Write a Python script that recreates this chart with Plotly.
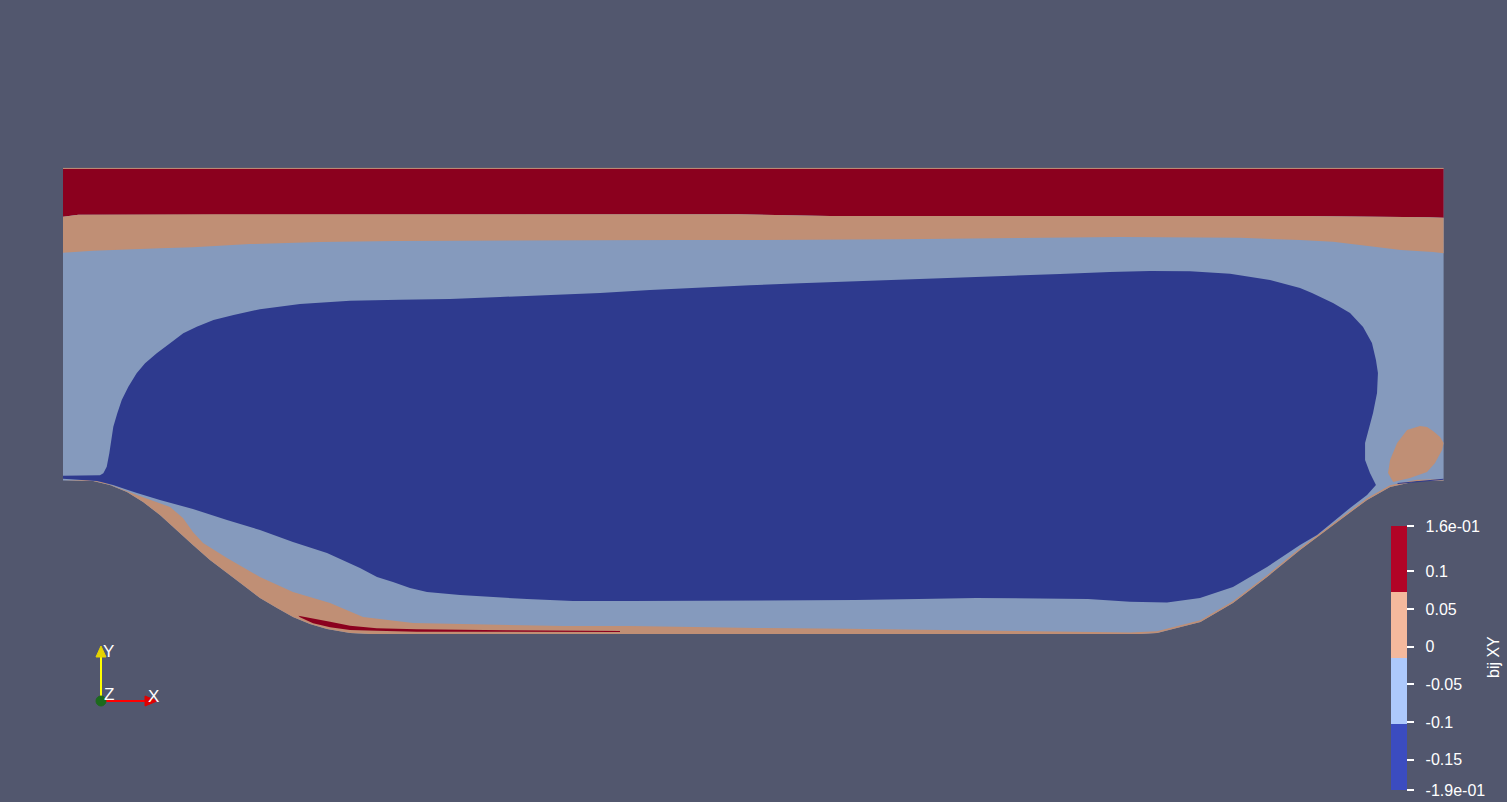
import plotly.graph_objects as go

# ---------------- data (physical units, periodic-hill channel) ----------------
DOMAIN_LENGTH = 9.0
CHANNEL_TOP = 3.035

# lower wall (hill profile)
WALL_X = [0.000, 0.196, 0.306, 0.417, 0.522, 0.632, 0.743, 0.847, 0.958, 1.069, 1.173, 1.284,
          1.395, 1.499, 1.610, 1.721, 1.871, 2.000, 7.021, 7.132, 7.415, 7.627, 7.849, 8.064,
          8.279, 8.501, 8.651, 8.827, 9.000]
WALL_Y = [1.000, 0.997, 0.971, 0.926, 0.860, 0.776, 0.678, 0.580, 0.482, 0.398, 0.319, 0.235,
          0.169, 0.111, 0.065, 0.033, 0.007, 0.000, 0.000, 0.007, 0.078, 0.202, 0.372, 0.548,
          0.711, 0.874, 0.958, 0.997, 1.000]

# iso-line (red / tan) near the top wall
RED_TAN_X = [0.0, 0.1, 1.0, 4.4, 5.0, 8.1, 8.9, 9.0]
RED_TAN_Y = [2.720, 2.733, 2.736, 2.736, 2.725, 2.725, 2.716, 2.714]

# iso-line (tan / light blue) near the top wall
TAN_BLUE_X = [0.000, 0.196, 0.632, 0.847, 1.219, 1.675, 2.164, 4.003, 4.413, 5.456, 6.258,
              6.891, 7.673, 8.064, 8.279, 8.501, 8.722, 8.931, 9.000]
TAN_BLUE_Y = [2.486, 2.499, 2.514, 2.521, 2.542, 2.555, 2.562, 2.568, 2.568, 2.573, 2.581,
              2.588, 2.583, 2.568, 2.557, 2.529, 2.503, 2.490, 2.482]

# core region (lowest level)
CORE_X = [0.000, 0.241, 0.263, 0.285, 0.302, 0.313, 0.328, 0.354, 0.383, 0.426, 0.480, 0.535,
          0.611, 0.698, 0.784, 0.872, 0.981, 1.112, 1.219, 1.284, 1.545, 1.871, 2.197, 2.523,
          2.849, 3.175, 3.501, 3.827, 4.153, 4.478, 4.804, 5.456, 6.108, 6.499, 6.825, 7.086,
          7.347, 7.608, 7.868, 8.064, 8.142, 8.279, 8.390, 8.475, 8.533, 8.559, 8.572, 8.566,
          8.540, 8.514, 8.488, 8.488, 8.520, 8.559, 8.501, 8.390, 8.279, 8.175, 8.064, 7.849,
          7.627, 7.412, 7.197, 6.956, 6.682, 5.952, 5.574, 5.163, 3.696, 3.325, 3.025, 2.588,
          2.373, 2.262, 2.151, 2.047, 1.936, 1.825, 1.721, 1.499, 1.284, 1.069, 0.847, 0.632,
          0.482, 0.326, 0.222, 0.000]
CORE_Y = [1.032, 1.035, 1.048, 1.091, 1.178, 1.265, 1.351, 1.439, 1.525, 1.612, 1.699, 1.765,
          1.830, 1.895, 1.960, 2.003, 2.047, 2.080, 2.101, 2.117, 2.151, 2.173, 2.179, 2.184,
          2.197, 2.208, 2.223, 2.243, 2.260, 2.273, 2.286, 2.308, 2.332, 2.347, 2.360, 2.366,
          2.364, 2.349, 2.308, 2.256, 2.223, 2.158, 2.093, 2.001, 1.897, 1.786, 1.701, 1.571,
          1.441, 1.349, 1.245, 1.134, 1.050, 0.971, 0.906, 0.821, 0.730, 0.645, 0.580, 0.437,
          0.306, 0.235, 0.205, 0.211, 0.228, 0.235, 0.228, 0.222, 0.215, 0.215, 0.228, 0.254,
          0.274, 0.300, 0.339, 0.372, 0.430, 0.482, 0.528, 0.600, 0.678, 0.743, 0.815, 0.874,
          0.919, 0.971, 0.997, 1.012]

# upper edge of the positive layer hugging the lower wall
WALL_LAYER_X = [0.163, 0.261, 0.482, 0.698, 0.782, 0.847, 0.913, 1.069, 1.284, 1.499, 1.741,
                1.956, 2.282, 2.803, 3.259, 3.696, 4.524, 5.111, 5.587, 6.043, 6.630, 6.956,
                7.132, 7.415, 7.627, 7.849, 8.064, 8.279, 8.501, 8.651, 8.827, 9.000]
WALL_LAYER_Y = [1.004, 0.991, 0.906, 0.828, 0.756, 0.665, 0.593, 0.495, 0.372, 0.274, 0.202,
                0.111, 0.072, 0.059, 0.052, 0.052, 0.039, 0.035, 0.028, 0.022, 0.013, 0.010,
                0.018, 0.089, 0.213, 0.383, 0.559, 0.722, 0.885, 0.969, 1.006, 1.008]

# thin strong-positive sliver in the separation zone
SLIVER_X = [1.534, 1.630, 1.741, 1.871, 2.045, 2.306, 2.892, 3.631,
            3.631, 2.892, 2.306, 2.045, 1.871, 1.741, 1.630, 1.545]
SLIVER_Y = [0.119, 0.102, 0.080, 0.054, 0.037, 0.031, 0.024, 0.020,
            0.013, 0.015, 0.015, 0.022, 0.026, 0.044, 0.070, 0.109]

# positive pocket in front of the right hill crest
POCKET_X = [8.846, 8.892, 8.931, 8.977, 9.000, 8.990, 8.944, 8.892, 8.781, 8.671, 8.638,
            8.651, 8.697, 8.762]
POCKET_Y = [1.356, 1.350, 1.323, 1.284, 1.245, 1.199, 1.115, 1.056, 1.017, 0.991, 1.050,
            1.134, 1.245, 1.330]

# negative streak on the right crest
STREAK_X = [8.70, 9.00, 9.00, 8.70]
STREAK_Y = [0.985, 1.012, 1.005, 0.978]

# colour map (bij XY)
CB_TITLE = "bij XY"
CB_MIN, CB_MAX = -0.19, 0.16
TICK_VALS = [-0.19, -0.15, -0.1, -0.05, 0, 0.05, 0.1, 0.16]
TICK_TEXT = ["-1.9e-01", "-0.15", "-0.1", "-0.05", "0", "0.05", "0.1", "1.6e-01"]
BAR_COLORS = ["#3b4cc0", "#adc9fc", "#f4b99d", "#b20426"]      # legend bar colours
LIT_COLORS = ["#2e3a8e", "#859abd", "#c08f75", "#8b001e"]      # shaded surface colours

BG = "#52576e"
FONT = "Liberation Sans, Arial"

# ---------------- figure ----------------
fig = go.Figure()


def region(xs, ys, color):
    fig.add_trace(go.Scatter(x=xs, y=ys, mode="lines", fill="toself", fillcolor=color,
                             line=dict(width=0, color=color), hoverinfo="skip",
                             showlegend=False))


blue, lblue, tan, red = LIT_COLORS

region([0, DOMAIN_LENGTH] + WALL_X[::-1], [CHANNEL_TOP, CHANNEL_TOP] + WALL_Y[::-1], lblue)
region([0, DOMAIN_LENGTH] + RED_TAN_X[::-1], [CHANNEL_TOP, CHANNEL_TOP] + RED_TAN_Y[::-1], red)
region(RED_TAN_X + TAN_BLUE_X[::-1], RED_TAN_Y + TAN_BLUE_Y[::-1], tan)
region(WALL_LAYER_X + WALL_X[::-1], WALL_LAYER_Y + WALL_Y[::-1], tan)
region(CORE_X, CORE_Y, blue)
region(SLIVER_X, SLIVER_Y, red)
region(POCKET_X, POCKET_Y, tan)
region(STREAK_X, STREAK_Y, blue)
fig.add_trace(go.Scatter(x=[0, DOMAIN_LENGTH], y=[CHANNEL_TOP, CHANNEL_TOP], mode="lines",
                         line=dict(width=1, color=tan), hoverinfo="skip", showlegend=False))

# colour bar carrier
n = len(BAR_COLORS)
cscale = []
for i, c in enumerate(BAR_COLORS):
    cscale += [[i / n, c], [(i + 1) / n, c]]
NBSP = "\u00a0\u00a0"
fig.add_trace(go.Scatter(
    x=[-50], y=[-50], mode="markers", hoverinfo="skip", showlegend=False,
    marker=dict(size=1, color=[0], cmin=CB_MIN, cmax=CB_MAX, colorscale=cscale, showscale=True,
                colorbar=dict(
                    thickness=16, thicknessmode="pixels", len=264, lenmode="pixels",
                    x=1391 / 1507, xanchor="left", xpad=0,
                    y=1 - 526 / 802, yanchor="top", ypad=0,
                    outlinewidth=0, bgcolor="rgba(0,0,0,0)",
                    tickmode="array", tickvals=TICK_VALS,
                    ticktext=[NBSP + t for t in TICK_TEXT],
                    ticks="outside", ticklen=7, tickwidth=2, tickcolor="white",
                    tickfont=dict(family=FONT, size=16, color="white"),
                ))))

W, H = 1507, 802


def px(xp, yp):
    return xp / W, 1 - yp / H


shapes = []
x0, y0 = px(101, 701)
x1, y1 = px(101, 656)
shapes.append(dict(type="line", xref="paper", yref="paper", x0=x0, y0=y0, x1=x1, y1=y1,
                   line=dict(color="#ffff00", width=2)))
x2, y2 = px(146, 701)
shapes.append(dict(type="line", xref="paper", yref="paper", x0=x0, y0=y0, x1=x2, y1=y2,
                   line=dict(color="#ff0000", width=2)))


def path_paper(pts):
    s = ""
    for i, (a, b) in enumerate(pts):
        u, v = px(a, b)
        s += ("M" if i == 0 else "L") + f"{u:.5f},{v:.5f}"
    return s + "Z"


shapes.append(dict(type="path", xref="paper", yref="paper",
                   path=path_paper([(101, 646), (96, 657), (106, 657)]),
                   fillcolor="#e6d400", line=dict(color="#e6d400", width=1)))
shapes.append(dict(type="path", xref="paper", yref="paper",
                   path=path_paper([(157, 701), (145, 696), (145, 706)]),
                   fillcolor="#e00000", line=dict(color="#e00000", width=1)))
cx0, cy0 = px(96, 706)
cx1, cy1 = px(106, 696)
shapes.append(dict(type="circle", xref="paper", yref="paper", x0=cx0, y0=cy0, x1=cx1, y1=cy1,
                   fillcolor="#1c6a1c", line=dict(color="#1c6a1c", width=1)))

annotations = []
for label, (a, b) in [("Y", (108, 651)), ("Z", (109, 694)), ("X", (153, 696))]:
    u, v = px(a, b)
    annotations.append(dict(text=label, x=u, y=v, xref="paper", yref="paper",
                            showarrow=False, xanchor="center", yanchor="middle",
                            font=dict(family=FONT, size=17, color="white")))
u, v = px(1493, 657)
annotations.append(dict(text=CB_TITLE, x=u, y=v, xref="paper", yref="paper", showarrow=False,
                        textangle=-90, xanchor="center", yanchor="middle",
                        font=dict(family=FONT, size=16, color="white")))

fig.update_layout(
    width=W, height=H, margin=dict(l=0, r=0, t=0, b=0, pad=0),
    paper_bgcolor=BG, plot_bgcolor=BG, showlegend=False,
    xaxis=dict(range=[-63 / 153.4, (W - 63) / 153.4], visible=False, fixedrange=True),
    yaxis=dict(range=[-(H - 634) / 153.4, 634 / 153.4], visible=False, fixedrange=True),
    shapes=shapes, annotations=annotations,
)

fig.write_html("out.html", config={"displayModeBar": False})
